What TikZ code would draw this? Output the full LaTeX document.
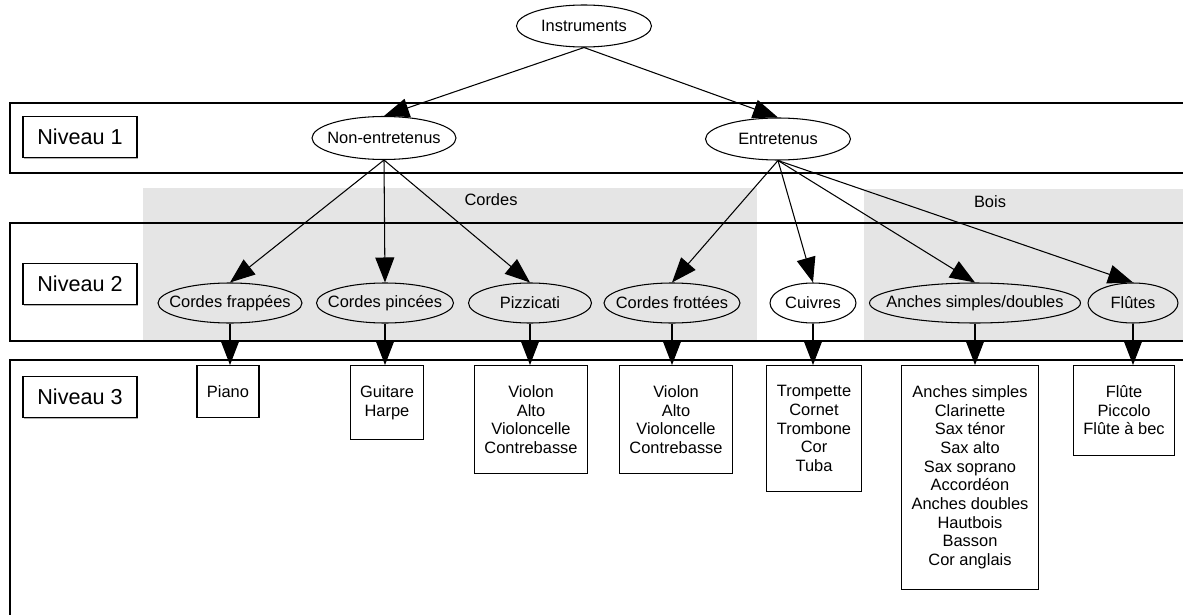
\documentclass[tikz,border=0pt]{standalone}
\usepackage{fontspec}
\setmainfont{Liberation Sans}
\usetikzlibrary{shapes.geometric,arrows.meta,shadows}
\newcommand{\lbl}[1]{\makebox[0pt]{#1}}

\begin{document}
\begin{tikzpicture}[x=0.02cm,y=-0.02cm,line width=0.6pt,
        font=\fontsize{9.35}{10.64}\selectfont,
        cat/.style={ellipse,draw,inner sep=0pt,minimum height=0.8cm},
        leaf/.style={rectangle,draw,anchor=north,align=center,inner xsep=0.2cm,inner ysep=0.4cm},
        niveau/.style={rectangle,draw,fill=white,minimum width=2.28cm,minimum height=0.82cm,
            general shadow={fill=gray!60,shadow xshift=0.7pt,shadow yshift=-0.7pt},
            font=\fontsize{12.3}{14}\selectfont},
        arr/.style={-{Triangle[length=0.5cm,width=0.38cm]}}]
            \useasboundingbox(0,0)rectangle(1183,615);
            \clip(0,0)rectangle(1183,615);

            \fill[gray!20](143,188)rectangle(757,341);
            \fill[gray!20](864,189)rectangle(1195,341);
            \node (cordes) at (491,200) {Cordes};
            \node (bois) at (990,202) {Bois};

            \draw(10,103)rectangle(1195,173);
            \draw(10,223)rectangle(1195,341);
            \draw(10,360)rectangle(1195,630);
            \node[niveau] (niv1) at (80,137) {Niveau 1};
            \node[niveau] (niv2) at (80,284) {Niveau 2};
            \node[niveau] (niv3) at (80,397) {Niveau 3};

            \node[cat,minimum width=2.7cm,minimum height=0.84cm] (instr) at (584,26) {\lbl{Instruments}};
            \node[cat,minimum width=2.88cm,minimum height=0.86cm] (nonent) at (384,138) {\lbl{Non-entretenus}};
            \node[cat,minimum width=2.9cm,minimum height=0.84cm] (ent) at (778,139) {\lbl{Entretenus}};

            \node[cat,minimum width=2.88cm] (frap) at (230,303) {\lbl{Cordes frappées}};
            \node[cat,minimum width=2.74cm] (pinc) at (385,303) {\lbl{Cordes pincées}};
            \node[cat,minimum width=2.46cm] (pizz) at (530,303) {\lbl{Pizzicati}};
            \node[cat,minimum width=2.72cm] (frot) at (672,303) {\lbl{Cordes frottées}};
            \node[cat,minimum width=1.72cm] (cuiv) at (813,303) {\lbl{Cuivres}};
            \node[cat,minimum width=4.22cm] (anch) at (975,303) {\lbl{Anches simples/doubles}};
            \node[cat,minimum width=1.8cm] (flut) at (1133,303) {\lbl{Flûtes}};

            \node[leaf] (piano) at (228,365) {Piano};
            \node[leaf] (guit) at (387,365) {Guitare\\Harpe};
            \node[leaf] (vio1) at (531,365) {Violon\\Alto\\Violoncelle\\Contrebasse};
            \node[leaf] (vio2) at (676,365) {Violon\\Alto\\Violoncelle\\Contrebasse};
            \node[leaf] (cuivl) at (814,365) {Trompette\\Cornet\\Trombone\\Cor\\Tuba};
            \node[leaf] (anchl) at (970,365) {Anches simples\\Clarinette\\Sax ténor\\Sax alto\\Sax soprano\\Accordéon\\Anches doubles\\Hautbois\\Basson\\Cor anglais};
            \node[leaf] (flutl) at (1124,365) {Flûte\\Piccolo\\Flûte à bec};

            \draw[arr](instr.south)--(nonent.north);
            \draw[arr](instr.south)--(ent.north);

            \draw[arr](nonent.south)--(frap.north);
            \draw[arr](nonent.south)--(pinc.north);
            \draw[arr](nonent.south)--(pizz.north);
            \draw[arr](ent.south)--(frot.north);
            \draw[arr](ent.south)--(cuiv.north);
            \draw[arr](ent.south)--(anch.north);
            \draw[arr](ent.south)--(flut.north);

            \draw[arr](frap.south)--(frap.south|-piano.north);
            \draw[arr](pinc.south)--(pinc.south|-guit.north);
            \draw[arr](pizz.south)--(pizz.south|-vio1.north);
            \draw[arr](frot.south)--(frot.south|-vio2.north);
            \draw[arr](cuiv.south)--(cuiv.south|-cuivl.north);
            \draw[arr](anch.south)--(anch.south|-anchl.north);
            \draw[arr](flut.south)--(flut.south|-flutl.north);
        \end{tikzpicture}
\end{document}
